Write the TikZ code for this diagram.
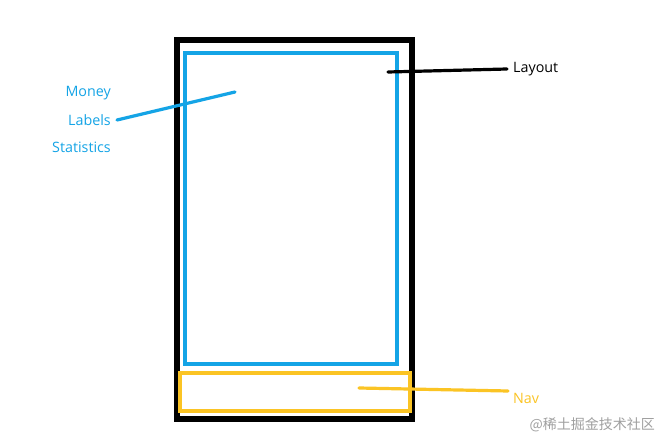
\documentclass[tikz,border=0pt]{standalone}
\usepackage{fontspec}
\setmainfont{Open Sans}
\newfontfamily\cjk{Noto Sans CJK SC}
\definecolor{skyb}{HTML}{14A4E6}
\definecolor{ambr}{HTML}{FBC424}
\definecolor{wmark}{HTML}{A0A0A0}
\tikzset{
  lbl/.style={inner sep=0pt, font=\fontsize{14.3}{16}\selectfont},
  lead/.style={line width=3.2pt, line cap=round},
}
\begin{document}
\begin{tikzpicture}[x=1pt,y=-1pt]
\useasboundingbox[fill=white] (0,0) rectangle (667,446);
% frames
\draw[line width=6pt, black] (177,40) rectangle (412,419);
\draw[line width=4pt, skyb] (185,53) rectangle (397,364);
\draw[line width=3.5pt, ambr] (180,373) rectangle (410,411);
% labels
\node[lbl, skyb, anchor=east] (money) at (111,93) {Money};
\node[lbl, skyb, anchor=east] (labels) at (111,120) {Labels};
\node[lbl, skyb, anchor=east] (stats) at (111,147) {Statistics};
\node[lbl, black, anchor=west] (layout) at (513,69) {Layout};
\node[lbl, ambr, anchor=west] (nav) at (513,398) {Nav};
\node[inner sep=0pt, wmark, anchor=east, font=\cjk\fontsize{14}{16}\selectfont] (wm) at (655,425) {@稀土掘金技术社区};
% leader ends
\coordinate (cEnd) at (235,92);
\coordinate (lEnd) at (388,72);
\coordinate (nEnd) at (359,388);
\coordinate (cStart) at (117,120);
\coordinate (lStart) at (507,69);
\coordinate (nStart) at (508,391);
\draw[lead, skyb] (cStart) -- (cEnd);
\draw[lead, black] (lStart) -- (lEnd);
\draw[lead, ambr] (nStart) -- (nEnd);
\end{tikzpicture}
\end{document}
